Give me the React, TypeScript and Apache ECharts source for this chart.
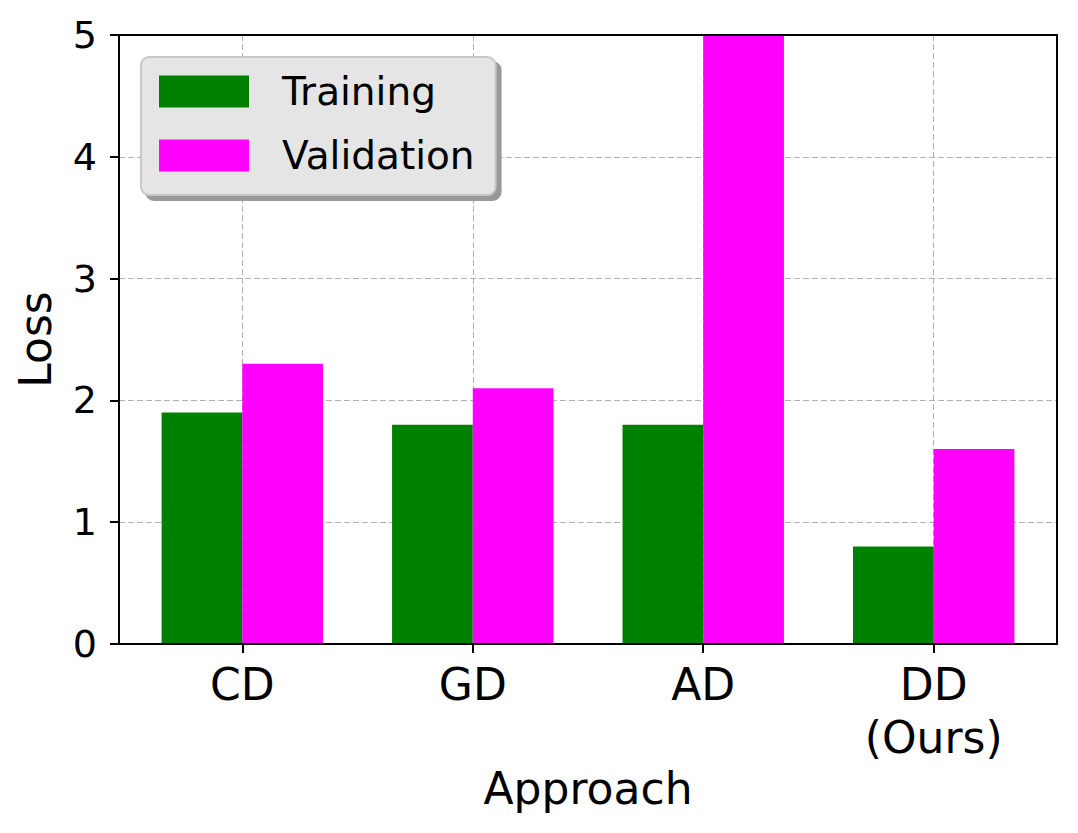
import React, { useEffect, useRef } from "react";
import * as echarts from "echarts";

const categories = ["CD", "GD", "AD", "DD\n(Ours)"];
const positions = [0, 1, 2, 3];
const training = [1.9, 1.8, 1.8, 0.8];
const validation = [2.3, 2.1, 5.0, 1.6];
const yTicks = [0, 1, 2, 3, 4, 5];

const FONT = "DejaVu Sans";

export default function App() {
  const ref = useRef<HTMLDivElement>(null);
  useEffect(() => {
    if (!ref.current) return;
    const chart = echarts.init(ref.current, null, { renderer: "svg" });
    const xMin = -0.535;
    const xMax = 3.535;
    const dashed = { color: "#b0b0b0", width: 1, type: [6, 3] as any };
    const black = { color: "#000", width: 2 };
    chart.setOption({
      animation: false,
      backgroundColor: "#fff",
      grid: {
        left: 119,
        right: 21,
        top: 35,
        bottom: 189,
        containLabel: false,
        outerBoundsMode: "none",
      },
      legend: {
        orient: "vertical",
        left: 141,
        top: 57,
        padding: [15, 21, 20, 18],
        itemWidth: 90,
        itemHeight: 32,
        itemGap: 25,
        icon: "rect",
        backgroundColor: "#e5e5e5",
        borderColor: "#c8c8c8",
        borderWidth: 2,
        borderRadius: 8,
        shadowColor: "#999999",
        shadowOffsetX: 5,
        shadowOffsetY: 5,
        shadowBlur: 0,
        textStyle: {
          fontSize: 39,
          fontFamily: FONT,
          color: "#000",
          padding: [0, 0, 0, 28],
        },
        data: ["Training", "Validation"],
      },
      xAxis: [
        {
          type: "value",
          position: "bottom",
          min: xMin,
          max: xMax,
          z: 10,
          axisLine: { show: true, onZero: false, lineStyle: black },
          axisTick: { show: true, customValues: positions, length: 9, lineStyle: black },
          axisLabel: {
            customValues: positions,
            formatter: (v: number) => categories[Math.round(v)],
            fontSize: 44,
            lineHeight: 53,
            fontFamily: FONT,
            color: "#000",
            margin: 14,
          },
          splitLine: { show: false },
          name: "Approach",
          nameLocation: "middle",
          nameGap: 122,
          nameMoveOverlap: false,
          nameTextStyle: { fontSize: 44, fontFamily: FONT, color: "#000" },
        },
        {
          type: "value",
          position: "top",
          min: xMin,
          max: xMax,
          z: 10,
          axisLine: { show: true, onZero: false, lineStyle: black },
          axisTick: { show: false },
          axisLabel: { show: false },
          splitLine: { show: false },
        },
        {
          type: "value",
          position: "bottom",
          min: xMin,
          max: xMax,
          z: 0,
          axisLine: { show: false },
          axisTick: { show: false, customValues: positions },
          axisLabel: { show: false, customValues: positions },
          splitLine: { show: true, lineStyle: dashed },
        },
      ],
      yAxis: [
        {
          type: "value",
          position: "left",
          min: 0,
          max: 5,
          interval: 1,
          z: 10,
          axisLine: { show: true, onZero: false, lineStyle: black },
          axisTick: { show: true, length: 9, lineStyle: black },
          axisLabel: {
            fontSize: 38,
            fontFamily: FONT,
            color: "#000",
            margin: 22,
            formatter: (v: number) => (yTicks.includes(v) ? String(v) : ""),
          },
          splitLine: { show: false },
          name: "Loss",
          nameLocation: "middle",
          nameGap: 62,
          nameRotate: 90,
          nameMoveOverlap: false,
          nameTextStyle: { fontSize: 44, fontFamily: FONT, color: "#000" },
        },
        {
          type: "value",
          position: "right",
          min: 0,
          max: 5,
          interval: 1,
          z: 10,
          axisLine: { show: true, onZero: false, lineStyle: black },
          axisTick: { show: false },
          axisLabel: { show: false },
          splitLine: { show: false },
        },
        {
          type: "value",
          position: "left",
          min: 0,
          max: 5,
          interval: 1,
          z: 0,
          axisLine: { show: false },
          axisTick: { show: false },
          axisLabel: { show: false },
          splitLine: { show: true, lineStyle: dashed },
        },
      ],
      series: [
        {
          name: "Training",
          type: "bar",
          xAxisIndex: 0,
          yAxisIndex: 0,
          barWidth: 80.7,
          barGap: "0%",
          itemStyle: { color: "#008000" },
          data: positions.map((p, i) => [p, training[i]]),
        },
        {
          name: "Validation",
          type: "bar",
          xAxisIndex: 0,
          yAxisIndex: 0,
          barWidth: 80.7,
          barGap: "0%",
          itemStyle: { color: "#ff00ff" },
          data: positions.map((p, i) => [p, validation[i]]),
        },
      ],
    });
    return () => chart.dispose();
  }, []);
  return (
    <div
      ref={ref}
      style={{ position: "fixed", left: 0, top: 0, width: 1078, height: 833 }}
    />
  );
}
